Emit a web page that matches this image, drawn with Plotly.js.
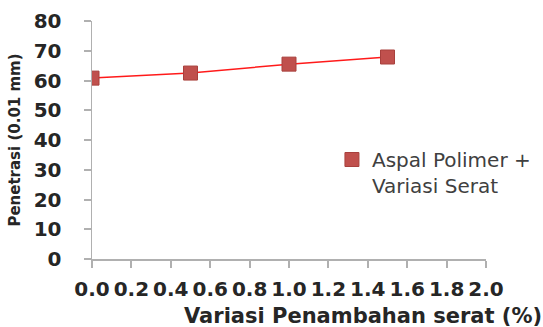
<!DOCTYPE html>
<html>
<head>
<meta charset="utf-8">
<script src="https://cdn.plot.ly/plotly-3.0.1.min.js"></script>
<style>html,body{margin:0;padding:0;background:#fff;}#chart{width:543px;height:327px;}</style>
</head>
<body>
<div id="chart"></div>
<script>
var seratPct = [0, 0.5, 1.0, 1.5];
var penetrasi = [60.8, 62.5, 65.5, 67.9];
var xTickVals = [0, 0.2, 0.4, 0.6, 0.8, 1.0, 1.2, 1.4, 1.6, 1.8, 2.0];
var xTickText = ["0.0","0.2","0.4","0.6","0.8","1.0","1.2","1.4","1.6","1.8","2.0"];
var seriesName = "Aspal Polimer +<br>Variasi Serat";

var lineTrace = {
  x: seratPct, y: penetrasi, mode: "lines", type: "scatter",
  line: {color: "#ff1a1a", width: 1.5}, showlegend: false, hoverinfo: "skip"
};
var markerTrace = {
  x: seratPct, y: penetrasi, mode: "markers", type: "scatter", name: seriesName,
  marker: {symbol: "square", size: 14, color: "#c0504d", line: {color: "#a8403d", width: 1}}
};

var axisCommon = {
  showgrid: false, zeroline: false, showline: true, linecolor: "#b0b0b0", linewidth: 1.5,
  ticks: "outside", ticklen: 7, tickwidth: 2, tickcolor: "#b0b0b0", automargin: false,
  tickfont: {family: "DejaVu Sans", size: 20, color: "#262626", weight: "bold"}
};

var layout = {
  width: 543, height: 327,
  margin: {l: 92, r: 57, t: 21, b: 68, autoexpand: false},
  paper_bgcolor: "#ffffff", plot_bgcolor: "#ffffff",
  xaxis: Object.assign({}, axisCommon, {
    range: [0, 2.0], tickvals: xTickVals, ticktext: xTickText, tickangle: 0, ticklabelstandoff: 4
  }),
  yaxis: Object.assign({}, axisCommon, {
    range: [0, 80], dtick: 10, tick0: 0, ticklabelstandoff: 18,
    title: {text: "Penetrasi (0.01 mm)", standoff: 9,
            font: {family: "DejaVu Sans", size: 15, color: "#262626", weight: "bold"}}
  }),
  legend: {
    x: 0.609, y: 0.5, xanchor: "left", yanchor: "top", valign: "top",
    bgcolor: "rgba(0,0,0,0)",
    font: {family: "DejaVu Sans", size: 20, color: "#404040"},
    itemwidth: 30
  },
  annotations: [{
    text: "Variasi Penambahan serat (%)", xref: "paper", yref: "paper",
    x: (544 - 92) / 394, y: -(316 - 259) / 238, xanchor: "right", yanchor: "middle", showarrow: false,
    font: {family: "DejaVu Sans", size: 21, color: "#262626", weight: "bold"}
  }],
  showlegend: true
};

Plotly.newPlot("chart", [lineTrace, markerTrace], layout, {displayModeBar: false, staticPlot: true});
</script>
</body>
</html>
